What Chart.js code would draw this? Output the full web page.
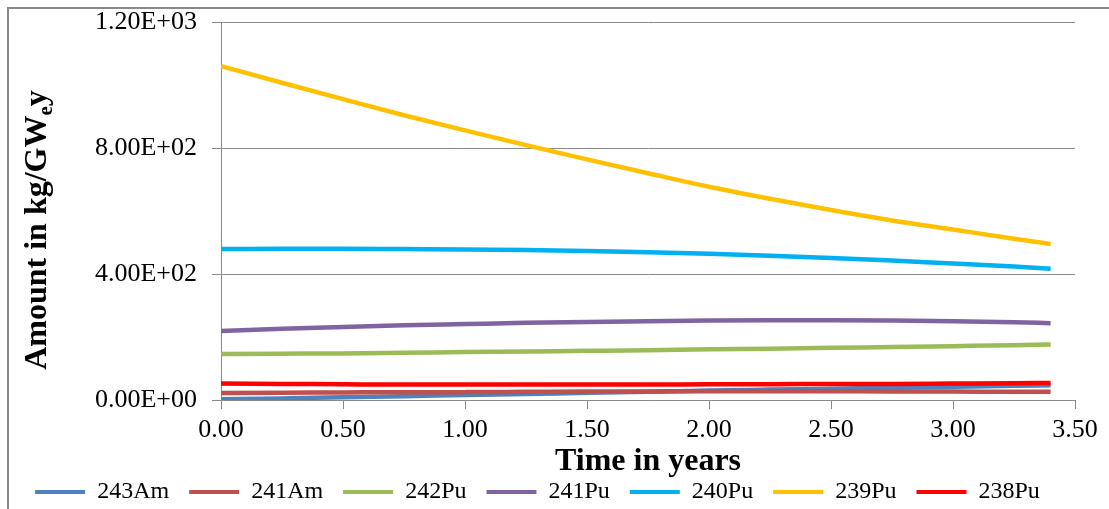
<!DOCTYPE html>
<html>
<head>
<meta charset="utf-8">
<title>Pu and Am inventory vs time</title>
<script src="https://cdn.jsdelivr.net/npm/chart.js@4.4.1/dist/chart.umd.min.js"></script>
<style>
    html, body { margin: 0; padding: 0; background: #fff; }
    #wrap { position: relative; width: 1109px; height: 509px; }
</style>
</head>
<body>
<div id="wrap"><canvas id="nuclideChart" width="1109" height="509"></canvas></div>
<script>
// ---- Data ----
const years = [0, 0.25, 0.5, 0.75, 1.0, 1.25, 1.5, 1.75, 2.0, 2.25, 2.5, 2.75, 3.0, 3.25, 3.4];

const am243 = [2, 5, 9, 12, 16, 19, 23, 26, 30, 33, 36, 39, 42, 45, 47];
const am241 = [22, 23, 24, 25, 25, 26, 27, 27, 28, 28, 28, 27, 27, 26, 26];
const pu242 = [146, 147, 148, 150, 152, 154, 156, 158, 161, 163, 166, 168, 171, 174, 176];
const pu241 = [219, 226, 232, 237, 241, 245, 248, 250, 252, 253, 253, 252, 250, 247, 244];
const pu240 = [479, 480, 480, 479, 478, 476, 473, 469, 464, 458, 451, 443, 433, 424, 417];
const pu239 = [1060, 1007, 955, 904, 856, 809, 764, 720, 677, 639, 603, 570, 541, 512, 495];
const pu238 = [52, 51, 50, 49, 49, 49, 49, 49, 50, 50, 51, 51, 52, 53, 54];

const seriesNames = ['243Am', '241Am', '242Pu', '241Pu', '240Pu', '239Pu', '238Pu'];
const seriesValues = [am243, am241, pu242, pu241, pu240, pu239, pu238];
const seriesColors = ['#4F81BD', '#C0504D', '#9BBB59', '#8064A2', '#00B0F0', '#FFC000', '#FF0000'];

const yTicks = [0, 400, 800, 1200];
const xTicks = [0, 0.5, 1.0, 1.5, 2.0, 2.5, 3.0, 3.5];

const serif = '"Liberation Serif", "Times New Roman", serif';

// ---- Format like Excel scientific ----
function sciLabel(value) {
    if (value === 0) return '0.00E+00';
    const exp = Math.floor(Math.log10(Math.abs(value)));
    const mant = value / Math.pow(10, exp);
    const sign = exp < 0 ? '-' : '+';
    return mant.toFixed(2) + 'E' + sign + String(Math.abs(exp)).padStart(2, '0');
}

// ---- Frame + rotated y title with subscript ----
const decorPlugin = {
    id: 'decor',
    afterDraw(chart) {
        const ctx = chart.ctx;
        ctx.save();
        ctx.strokeStyle = '#8a8a8a';
        ctx.lineWidth = 2;
        ctx.strokeRect(8, 8, 1300, 700);

        const big = 'bold 32px ' + serif;
        const small = 'bold 21px ' + serif;
        const partA = 'Amount in kg/GW';
        const partB = 'e';
        const partC = 'y';
        ctx.font = big;
        const wA = ctx.measureText(partA).width;
        const wC = ctx.measureText(partC).width;
        ctx.font = small;
        const wB = ctx.measureText(partB).width;
        const total = wA + wB + wC;

        ctx.translate(38, 230);
        ctx.rotate(-Math.PI / 2);
        ctx.fillStyle = '#000';
        ctx.textBaseline = 'middle';
        ctx.textAlign = 'left';
        let x = -total / 2;
        ctx.font = big;
        ctx.fillText(partA, x, 0);
        x += wA;
        ctx.font = small;
        ctx.fillText(partB, x, 9);
        x += wB;
        ctx.font = big;
        ctx.fillText(partC, x, 0);
        ctx.restore();
    }
};

// ---- Build chart ----
function initChart() {
    const ctx = document.getElementById('nuclideChart');
    const n = seriesNames.length;

    const datasets = seriesNames.map((name, i) => ({
        label: name,
        data: years.map((t, k) => ({ x: t, y: seriesValues[i][k] })),
        borderColor: seriesColors[i],
        backgroundColor: seriesColors[i],
        borderWidth: 4.5,
        pointRadius: 0,
        cubicInterpolationMode: 'monotone',
        fill: false,
        order: n - i
    }));

    new Chart(ctx, {
        type: 'line',
        data: { datasets: datasets },
        plugins: [decorPlugin],
        options: {
            responsive: false,
            animation: false,
            layout: {
                padding: { top: 22, right: 34, left: 0, bottom: -5 }
            },
            plugins: {
                legend: {
                    position: 'bottom',
                    labels: {
                        boxWidth: 50,
                        boxHeight: 4,
                        padding: 20,
                        color: '#000',
                        font: { family: serif, size: 24 },
                        sort: (a, b) => a.datasetIndex - b.datasetIndex,
                        generateLabels: chart => {
                            const base = Chart.defaults.plugins.legend.labels.generateLabels(chart);
                            return base.map(item => Object.assign(item, { lineWidth: 0 }));
                        }
                    }
                },
                tooltip: { enabled: false }
            },
            scales: {
                x: {
                    type: 'linear',
                    min: 0,
                    max: 3.5,
                    afterBuildTicks: axis => {
                        axis.ticks = xTicks.map(v => ({ value: v }));
                    },
                    afterFit: axis => { axis.height = 60; },
                    ticks: {
                        color: '#000',
                        font: { family: serif, size: 26 },
                        padding: 6,
                        maxRotation: 0,
                        callback: v => Number(v).toFixed(2)
                    },
                    grid: {
                        drawOnChartArea: false,
                        color: '#8a8a8a',
                        tickLength: 9
                    },
                    border: { color: '#8a8a8a', width: 1 },
                    title: {
                        display: true,
                        text: 'Time in years',
                        color: '#000',
                        font: { family: serif, size: 32, weight: 'bold' },
                        padding: { top: 0, bottom: -21 }
                    }
                },
                y: {
                    min: 0,
                    max: 1200,
                    afterBuildTicks: axis => {
                        axis.ticks = yTicks.map(v => ({ value: v }));
                    },
                    afterFit: axis => {
                        axis.width = 221;
                        axis.paddingTop = 0;
                        axis.paddingBottom = 0;
                    },
                    ticks: {
                        color: '#000',
                        font: { family: serif, size: 26 },
                        padding: 15,
                        callback: v => sciLabel(v)
                    },
                    grid: {
                        color: '#8a8a8a',
                        tickLength: 9
                    },
                    border: { color: '#8a8a8a', width: 1 }
                }
            }
        }
    });
}

document.addEventListener('DOMContentLoaded', initChart);
</script>
</body>
</html>
